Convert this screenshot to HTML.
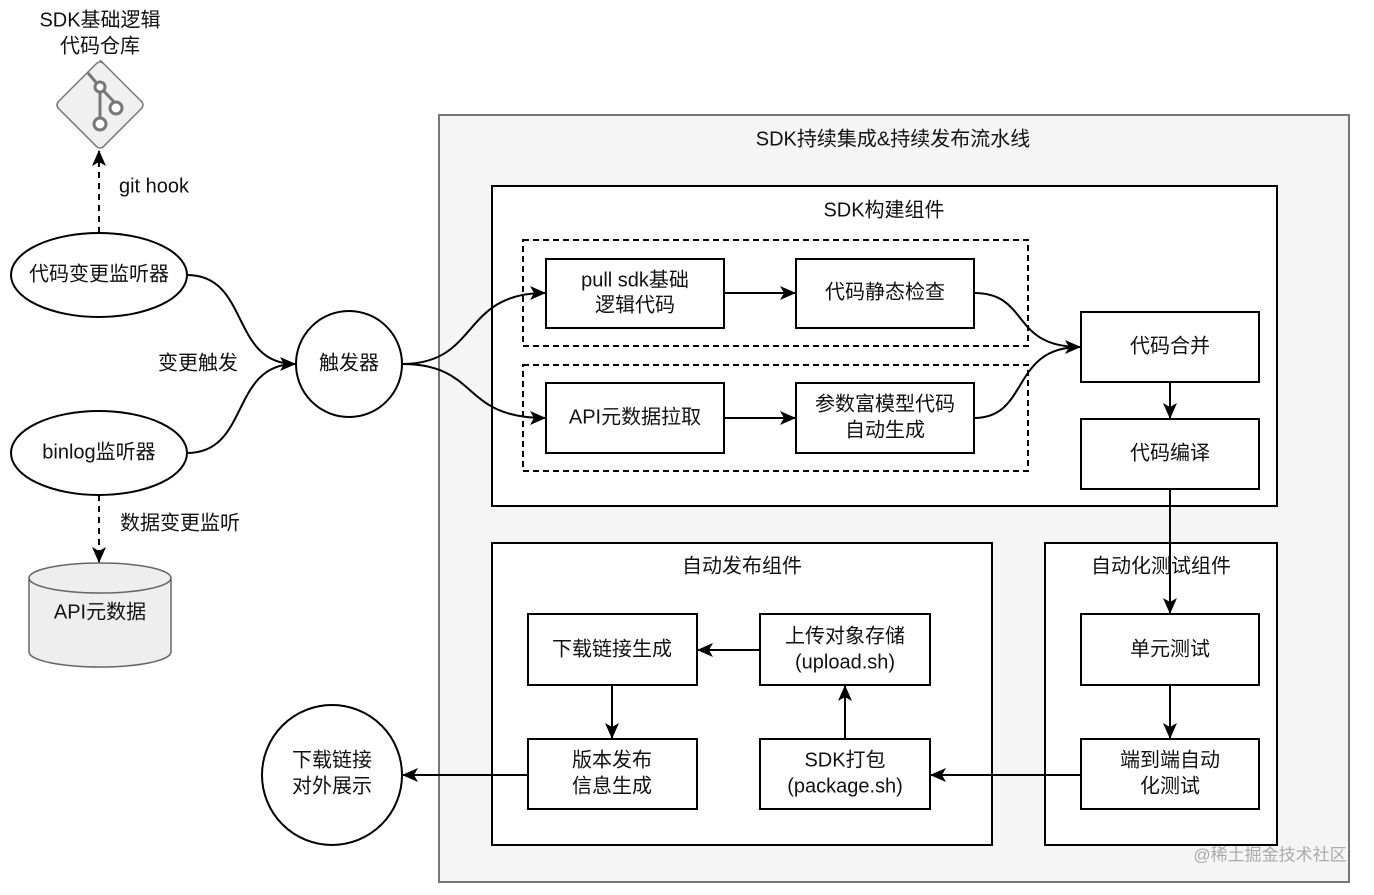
<!DOCTYPE html>
<html><head><meta charset="utf-8"><style>
body{margin:0;background:#fff}
text{font-family:"Liberation Sans","Noto Sans CJK SC",sans-serif;font-size:20px;fill:#111;text-anchor:middle;dominant-baseline:middle}
</style></head><body>
<svg width="1374" height="890" viewBox="0 0 1374 890" xmlns="http://www.w3.org/2000/svg">
<defs><marker id="a" markerWidth="16" markerHeight="14" refX="15" refY="7" orient="auto" markerUnits="userSpaceOnUse" viewBox="0 0 16 14"><path d="M0,0 L16,7 L0,14 L4,7 Z" fill="#000"/></marker></defs>
<g stroke="#000" stroke-width="2" fill="#fff">
<rect x="439" y="115" width="910" height="767" fill="#f5f5f5" stroke="#777"/>
<rect x="492" y="186" width="785" height="320"/>
<rect x="523" y="240" width="505" height="106" stroke-dasharray="6,4" fill="none"/>
<rect x="523" y="365" width="505" height="106" stroke-dasharray="6,4" fill="none"/>
<rect x="546" y="259" width="178" height="69"/>
<rect x="796" y="259" width="178" height="69"/>
<rect x="546" y="383" width="178" height="70"/>
<rect x="796" y="383" width="178" height="70"/>
<rect x="1081" y="312" width="178" height="70"/>
<rect x="1081" y="419" width="178" height="70"/>
<rect x="492" y="543" width="500" height="302"/>
<rect x="1045" y="543" width="232" height="302"/>
<rect x="528" y="614" width="169" height="71"/>
<rect x="760" y="614" width="170" height="71"/>
<rect x="528" y="739" width="169" height="70"/>
<rect x="760" y="739" width="170" height="70"/>
<rect x="1081" y="614" width="178" height="71"/>
<rect x="1081" y="739" width="178" height="70"/>
<circle cx="332" cy="775" r="70"/>
<circle cx="349" cy="364" r="53"/>
<ellipse cx="99" cy="275" rx="88" ry="42"/>
<ellipse cx="99" cy="453" rx="88" ry="42"/>
</g>
<g stroke="#666" stroke-width="1.5" fill="#eee">
<path d="M29,578 L29,652 A71,15 0 0 0 171,652 L171,578 A71,15 0 0 0 29,578 Z"/>
<path d="M29,578 A71,15 0 0 0 171,578" fill="none"/>
<path d="M100,60 L141,101 Q145,105 141,109 L104,146 Q100,150 96,146 L59,109 Q55,105 59,101 L96,64 Q100,60 104,64 Z" fill="#f0f0f0" stroke="#777"/>
</g>
<g stroke="#777" stroke-width="3" fill="none">
<path d="M88,73 L100,87 L100,118 M100,87 L116,104"/>
<circle cx="100" cy="87" r="5" fill="#fff"/><circle cx="116" cy="108" r="6" fill="#fff"/><circle cx="100" cy="124" r="6" fill="#fff"/>
</g>
<g stroke="#000" stroke-width="2" fill="none">
<path d="M99,233 L99,151" stroke-dasharray="6,5" marker-end="url(#a)"/>
<path d="M99,495 L99,562" stroke-dasharray="6,5" marker-end="url(#a)"/>
<path d="M187,275 C250,275 230,364 295,364" marker-end="url(#a)"/>
<path d="M187,453 C250,453 230,364 295,364"/>
<path d="M402,364 C480,364 460,293 545,293" marker-end="url(#a)"/>
<path d="M402,364 C480,364 460,418 545,418" marker-end="url(#a)"/>
<path d="M724,293 L795,293" marker-end="url(#a)"/>
<path d="M724,418 L795,418" marker-end="url(#a)"/>
<path d="M974,293 C1030,293 1010,347 1080,347" marker-end="url(#a)"/>
<path d="M974,418 C1030,418 1010,347 1080,347"/>
<path d="M1170,382 L1170,418" marker-end="url(#a)"/>
<path d="M1170,489 L1170,613" marker-end="url(#a)"/>
<path d="M1170,685 L1170,738" marker-end="url(#a)"/>
<path d="M1081,775 L931,775" marker-end="url(#a)"/>
<path d="M528,775 L403,775" marker-end="url(#a)"/>
<path d="M845,739 L845,686" marker-end="url(#a)"/>
<path d="M760,650 L698,650" marker-end="url(#a)"/>
<path d="M612,685 L612,738" marker-end="url(#a)"/>
</g>
<text x="100" y="21">SDK基础逻辑</text><text x="100" y="47">代码仓库</text>
<text x="154" y="187">git hook</text>
<text x="198" y="364">变更触发</text>
<text x="180" y="524">数据变更监听</text>
<text x="99" y="275">代码变更监听器</text>
<text x="99" y="453">binlog监听器</text>
<text x="100" y="613" fill="#333">API元数据</text>
<text x="349" y="364">触发器</text>
<text x="332" y="761">下载链接</text><text x="332" y="787">对外展示</text>
<text x="893" y="140">SDK持续集成&amp;持续发布流水线</text>
<text x="884" y="211">SDK构建组件</text>
<text x="635" y="281">pull sdk基础</text><text x="635" y="306">逻辑代码</text>
<text x="885" y="293">代码静态检查</text>
<text x="635" y="418">API元数据拉取</text>
<text x="885" y="405">参数富模型代码</text><text x="885" y="431">自动生成</text>
<text x="1170" y="347">代码合并</text>
<text x="1170" y="454">代码编译</text>
<text x="742" y="567">自动发布组件</text>
<text x="1161" y="567">自动化测试组件</text>
<text x="612" y="650">下载链接生成</text>
<text x="845" y="637">上传对象存储</text><text x="845" y="663">(upload.sh)</text>
<text x="612" y="761">版本发布</text><text x="612" y="787">信息生成</text>
<text x="845" y="761">SDK打包</text><text x="845" y="787">(package.sh)</text>
<text x="1170" y="650">单元测试</text>
<text x="1170" y="761">端到端自动</text><text x="1170" y="787">化测试</text>
<text x="1270" y="856" style="font-size:17px;fill:#aaa">@稀土掘金技术社区</text>
</svg>
</body></html>
